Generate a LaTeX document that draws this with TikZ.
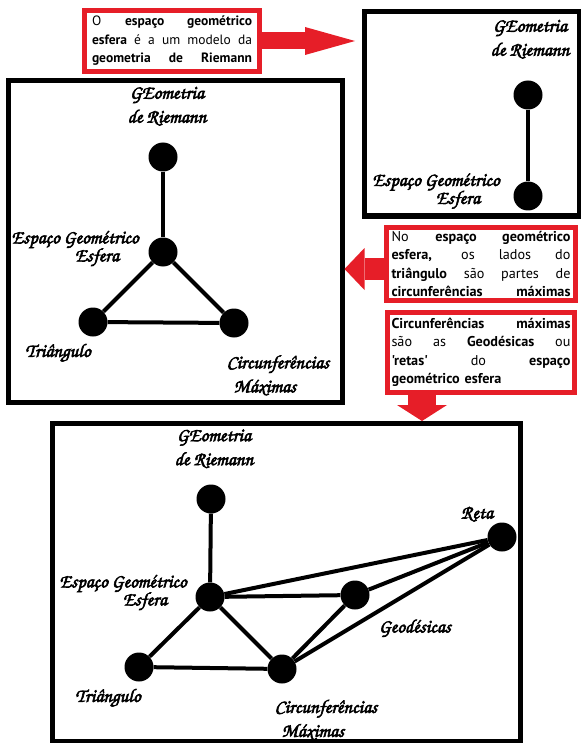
\documentclass[tikz,border=0pt]{standalone}
\usepackage[T1]{fontenc}
\usepackage{fontspec}
\usepackage{tikz}
\usetikzlibrary{arrows.meta}
\newfontfamily\notefont{PT Sans}
\newcommand\handfont{\fontencoding{T1}\fontfamily{pzc}\fontseries{mb}\fontshape{it}\fontsize{19}{24}\selectfont
    \special{pdf:literal 2 Tr 0.6 w}}
\newcommand\jline[1]{\makebox[\hsize][s]{\spaceskip=0pt\xspaceskip=0pt\relax #1}}
\definecolor{notered}{RGB}{230,30,40}

\begin{document}
\begin{tikzpicture}[x=1pt, y=-1pt,
    panel/.style={draw=black, line width=5pt, inner sep=0pt},
    dot/.style={circle, fill=black, inner sep=0pt, minimum size=29pt},
    edge/.style={line width=4pt},
    handlabel/.style={font=\handfont, align=center, inner sep=0pt},
    note/.style={draw=notered, line width=5pt, fill=white, inner sep=0pt, align=left,
        font=\notefont\fontsize{13.5}{18.5}\selectfont},
    notearrow/.style={draw=notered, line cap=butt}]
    \useasboundingbox (0,0) rectangle (580,743);

    % Panels
    \node[panel, minimum width=215pt, minimum height=204pt] (riemann) at (472,114) {};
    \node[panel, minimum width=333.5pt, minimum height=321pt] (triangle) at (175.25,241.5) {};
    \node[panel, minimum width=468pt, minimum height=317.5pt] (geodesic) at (286.5,582.25) {};

    % Notes
    \node[note, text width=160pt, minimum width=174.5pt, minimum height=61pt] (note1) at (172,41) {%
        \jline{O \textbf{espaço geométrico}}\\
        \jline{\textbf{esfera} é a um modelo da}\\
        \jline{\textbf{geometria de Riemann}}};
    \node[note, text width=179pt, minimum width=189pt, minimum height=73pt,
        font=\notefont\fontsize{14.2}{18.5}\selectfont] (note2) at (481,264) {%
        \jline{No \textbf{espaço geométrico}}\\
        \jline{\textbf{esfera,} os lados do}\\
        \jline{\textbf{triângulo} são partes de}\\
        \jline{\textbf{circunferências máximas}}};
    \node[note, text width=179pt, minimum width=187pt, minimum height=80pt,
        font=\notefont\fontsize{14.2}{18.5}\selectfont] (note3) at (481,352.5) {%
        \jline{\textbf{Circunferências máximas}}\\
        \jline{são as \textbf{Geodésicas} ou}\\
        \jline{\textbf{'retas'} do \textbf{espaço}}\\
        \textbf{geométrico esfera}};

    % Arrows between notes and panels
    \coordinate (leftrow) at (0,269);
    \coordinate (downcol) at (422,0);
    \draw[notearrow, line width=17pt, -{Triangle[width=28pt, length=50pt, line width=0pt]}, shorten >=7pt]
        (note1.east) -- (note1.east -| riemann.west);
    \draw[notearrow, line width=22pt, -{Triangle[width=42pt, length=20pt, line width=0pt]}]
        (note2.west |- leftrow) -- (triangle.east |- leftrow);
    \draw[notearrow, line width=28pt, -{Triangle[width=50pt, length=16pt, line width=0pt]}]
        (note3.south -| downcol) -- (geodesic.north -| downcol);

    % Model: sphere and Riemann
    \node[dot] (rtop) at (528,95) {};
    \node[dot] (rsphere) at (528,196) {};
    \draw[edge] (rtop) -- (rsphere);
    \node[handlabel] (rtoplabel) at (530,39.5) {GEometria\\de Riemann};
    \node[handlabel] (rspherelabel) at (436,191.5) {Espa\c{c}o Geom\'etrico\\[-6pt]\hspace*{44pt}Esfera};

    % Triangle on the sphere
    \node[dot] (ttop) at (163,157) {};
    \node[dot] (tsphere) at (163,252) {};
    \node[dot] (ttri) at (93,322) {};
    \node[dot] (tcirc) at (234,323) {};
    \draw[edge] (ttop) -- (tsphere);
    \draw[edge] (tsphere) -- (ttri);
    \draw[edge] (tsphere) -- (tcirc);
    \draw[edge] (ttri) -- (tcirc);
    \node[handlabel] (ttoplabel) at (167,106.5) {GEometria\\de Riemann};
    \node[handlabel] (tspherelabel) at (75,249) {Espa\c{c}o Geom\'etrico\\[-6pt]\hspace*{44pt}Esfera};
    \node[handlabel] (ttrilabel) at (58,353) {Tri\^angulo};
    \node[handlabel] (tcirclabel) at (278,375.5) {Circunfer\^encias\\M\'aximas\hspace*{26pt}};

    % Geodesics and lines
    \node[dot] (gtop) at (211,499) {};
    \node[dot] (gsphere) at (210,597) {};
    \node[dot] (gtri) at (139,667) {};
    \node[dot] (gcirc) at (282,669) {};
    \node[dot] (ggeo) at (355,595) {};
    \node[dot] (greta) at (502,537) {};
    \draw[edge] (gtop) -- (gsphere);
    \draw[edge] (gsphere) -- (gtri);
    \draw[edge] (gsphere) -- (gcirc);
    \draw[edge] (gtri) -- (gcirc);
    \draw[edge] (gsphere) -- (ggeo);
    \draw[edge] (gsphere) -- (greta);
    \draw[edge] (ggeo) -- (greta);
    \draw[edge] (gcirc) -- (ggeo);
    \draw[edge] (gcirc) -- (greta);
    \node[handlabel] (gtoplabel) at (214,449) {GEometria\\de Riemann};
    \node[handlabel] (gspherelabel) at (123,593) {Espa\c{c}o Geom\'etrico\\[-6pt]\hspace*{44pt}Esfera};
    \node[handlabel] (gtrilabel) at (108,698) {Tri\^angulo};
    \node[handlabel] (gcirclabel) at (326,720) {Circunfer\^encias\\M\'aximas\hspace*{26pt}};
    \node[handlabel] (gretalabel) at (477,514) {Reta};
    \node[handlabel] (ggeolabel) at (415,628) {Geod\'esicas};
\end{tikzpicture}
\end{document}
